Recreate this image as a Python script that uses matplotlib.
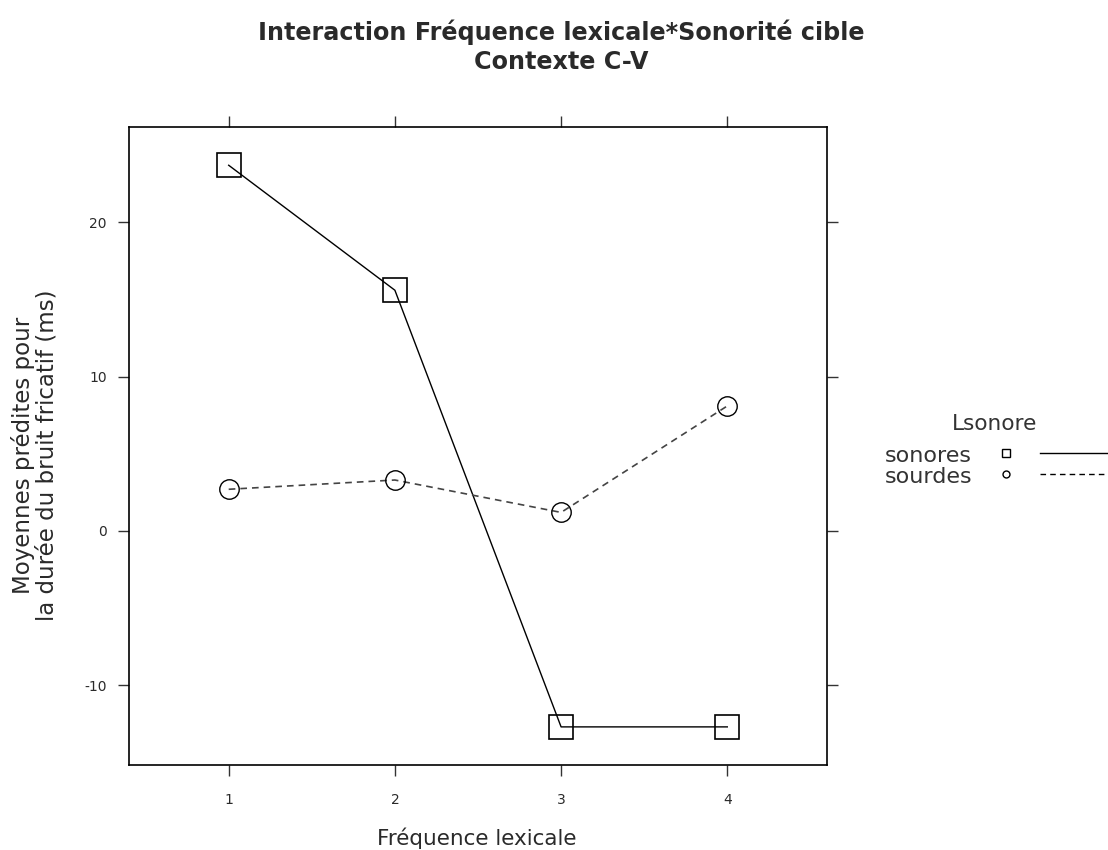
import matplotlib
matplotlib.use("Agg")
import matplotlib.pyplot as plt
from matplotlib.lines import Line2D

freq = [1, 2, 3, 4]
sonores = [23.7, 15.6, -12.7, -12.7]
sourdes = [2.7, 3.3, 1.2, 8.1]
yticks = [-10, 0, 10, 20]

plt.rcParams['font.family'] = ['DejaVu Sans']
plt.rcParams['axes.unicode_minus'] = False
txt = '#2a2a2a'

W, H = 1108, 850
fig = plt.figure(figsize=(W/100, H/100), dpi=100)
ax = fig.add_axes([0.1164, 0.1, 0.63, 0.7506])

ax.plot(freq, sonores, color='black', lw=1.0, ls='-', marker='s', ms=17,
        mfc='none', mec='black', mew=1.2, zorder=2)
ax.plot(freq, sourdes, color='#444444', lw=1.2, ls=(0, (4, 3)), marker='o', ms=14,
        mfc='none', mec='black', mew=1.0, zorder=2)

ax.set_xlim(0.4, 4.6)
ax.set_ylim(-15.17, 26.18)
ax.set_xticks(freq)
ax.set_yticks(yticks)
ax.tick_params(direction='out', length=8, width=1, top=True, right=True,
               labeltop=False, labelright=False, labelsize=10, colors='#333333',
               labelcolor=txt, pad=8)
ax.tick_params(axis='x', pad=12)
for s in ax.spines.values():
    s.set_linewidth(1.2)

fig.text(477/W, 1-838/H, 'Fréquence lexicale', ha='center', va='center',
         fontsize=15.5, color=txt)
fig.text(35/W, 1-455/H, 'Moyennes prédites pour\nla durée du bruit fricatif (ms)',
         ha='center', va='center', rotation=90, fontsize=16.5, color=txt,
         linespacing=1.0)

fig.text(561/W, 1-32/H, 'Interaction Fréquence lexicale*Sonorité cible',
         ha='center', va='center', fontsize=17.2, fontweight='bold', color=txt)
fig.text(561/W, 1-62/H, 'Contexte C-V', ha='center', va='center', fontsize=17.2,
         fontweight='bold', color=txt)

# legend
fig.text(995/W, 1-424/H, 'Lsonore', ha='center', va='center', fontsize=15.6, color='#333333')
names = ['sonores', 'sourdes']
markers = ['s', 'o']
styles = ['-', (0, (4, 3))]
for i, (n, m, st) in enumerate(zip(names, markers, styles)):
    y = 1 - (456 + 21*i)/H
    fig.text(885/W, y, n, ha='left', va='center', fontsize=16, color='#333333')
    fig.add_artist(Line2D([1006/W], [y + 0.003], marker=m, ms=6 if m == 's' else 5,
                          mfc='none', mec='black', mew=1.0, ls='none',
                          transform=fig.transFigure))
    fig.add_artist(Line2D([1040/W, 1.0], [y + 0.003], color='black', lw=1.0, ls=st,
                          transform=fig.transFigure))

fig.savefig('out.png', dpi=100, facecolor='white')
